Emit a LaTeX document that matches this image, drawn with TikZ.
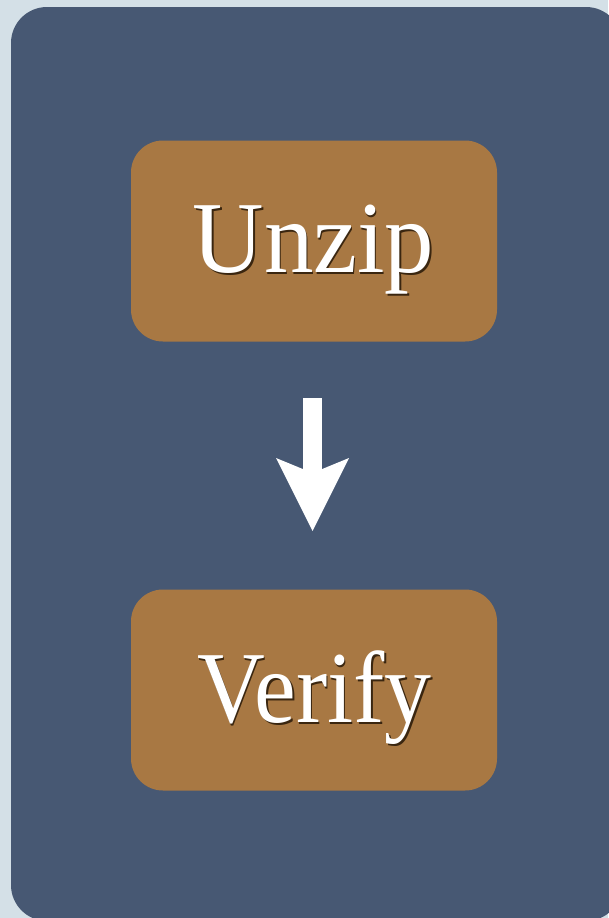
\documentclass[tikz,border=0pt]{standalone}
\usepackage{fontspec}
\setmainfont{Liberation Serif}
\usetikzlibrary{arrows.meta}
\definecolor{bgcol}{HTML}{D4E0E7}
\definecolor{panelcol}{HTML}{475873}
\definecolor{boxcol}{HTML}{A87843}
\definecolor{shadowcol}{HTML}{3A2610}
\newcommand{\shadowtext}[1]{\rlap{\hspace{1.5pt}\raisebox{-2pt}{\textcolor{shadowcol}{#1}}}\textcolor{white}{#1}}
\tikzset{
  stepbox/.style={draw=none, fill=boxcol, rounded corners=32pt, minimum width=366pt, minimum height=201pt, inner sep=0pt},
  boxtext/.style={anchor=base, inner sep=0pt, font=\fontsize{102}{112}\selectfont},
  bigarrow/.style={draw=white, line width=19pt, line cap=butt,
    -{Stealth[length=73pt, width=73pt, inset=15pt, line width=0pt, fill=white]}}
}
\begin{document}
\begin{tikzpicture}[x=1pt,y=-1pt]
  \useasboundingbox (0,0) rectangle (608,918);
  \fill[bgcol] (0,0) rectangle (608,918);
  \fill[panelcol, rounded corners=36pt] (11,7) rectangle (622,921);
  \node[stepbox] (unzip) at (314,241) {};
  \node[stepbox] (verify) at (314,690) {};
  \node[boxtext] (unziptext) at (313.5,272) {\scalebox{0.97}[1]{\shadowtext{Unzip}}};
  \node[boxtext] (verifytext) at (314.5,722) {\scalebox{0.92}[1]{\shadowtext{Verify}}};
  \coordinate (arrowtop) at (312.5,398);
  \coordinate (arrowtip) at (312.5,531);
  \draw[bigarrow] (arrowtop) -- (arrowtip);
\end{tikzpicture}
\end{document}
